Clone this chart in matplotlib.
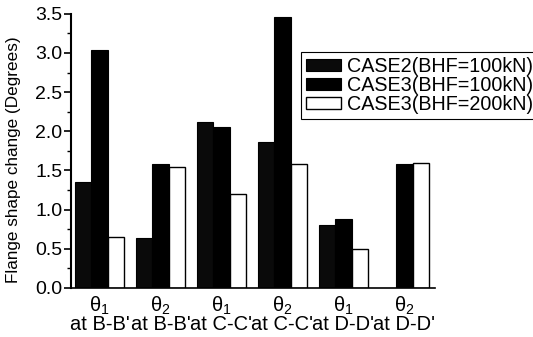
import numpy as np
import matplotlib
matplotlib.use("Agg")
from matplotlib import pyplot as plt

plt.rcParams["font.family"] = ["Liberation Sans", "DejaVu Sans"]
plt.rcParams["mathtext.fontset"] = "custom"
plt.rcParams["mathtext.rm"] = "Liberation Sans"
plt.rcParams["mathtext.it"] = "Liberation Sans"

# flange angle locations (two angles per section)
angles = ["1", "2", "1", "2", "1", "2"]
sections = ["B-B'", "B-B'", "C-C'", "C-C'", "D-D'", "D-D'"]

case2_100 = [1.35, 0.63, 2.12, 1.86, 0.80, 0.0]
case3_100 = [3.04, 1.58, 2.05, 3.46, 0.88, 1.58]
case3_200 = [0.65, 1.54, 1.20, 1.58, 0.50, 1.60]

series = ["CASE2(BHF=100kN)", "CASE3(BHF=100kN)", "CASE3(BHF=200kN)"]

fig = plt.figure(figsize=(5.33, 3.37), dpi=100)
ax = fig.add_axes([0.133, 0.146, 0.683, 0.813])

x = np.arange(len(angles))
w = 0.27
ax.bar(x - w, case2_100, w, color="#0a0a0a", edgecolor="black", linewidth=0.8, label=series[0])
ax.bar(x, case3_100, w, color="black", edgecolor="black", linewidth=0.8, label=series[1])
ax.bar(x + w, case3_200, w, color="white", edgecolor="black", linewidth=1.0, label=series[2])

ax.set_xlim(-0.467, 5.5)
ax.set_ylim(0, 3.5)
ax.set_yticks(np.arange(0, 3.51, 0.5))
ax.set_yticks(np.arange(0.25, 3.5, 0.5), minor=True)
ax.set_yticklabels([f"{v:.1f}" for v in np.arange(0, 3.51, 0.5)], fontsize=14)

ax.set_xticks(x)
ax.set_xticklabels([f"θ$_{a}$\nat {s}" for a, s in zip(angles, sections)],
                   fontsize=14.5, linespacing=0.85)
ax.tick_params(axis="x", length=0, pad=5)
ax.tick_params(axis="y", which="major", direction="out", length=5, width=1.2, pad=1)
ax.tick_params(axis="y", which="minor", direction="out", length=3, width=1)

for side in ("top", "right"):
    ax.spines[side].set_visible(False)
ax.spines["left"].set_linewidth(1.5)
ax.spines["bottom"].set_linewidth(1.2)

ax.set_ylabel("Flange shape change (Degrees)", fontsize=12.3)
ax.yaxis.set_label_coords(-0.138, 0.467)

leg = ax.legend(loc="upper left", bbox_to_anchor=(301 / 533, 1 - 52 / 337),
                bbox_transform=fig.transFigure, fontsize=14.2, frameon=True,
                fancybox=False, edgecolor="black", framealpha=1,
                handlelength=1.8, handleheight=0.62, handletextpad=0.3,
                labelspacing=0.0, borderpad=0.25, borderaxespad=0)
leg.get_frame().set_linewidth(0.8)

fig.savefig("out.png", dpi=100)
